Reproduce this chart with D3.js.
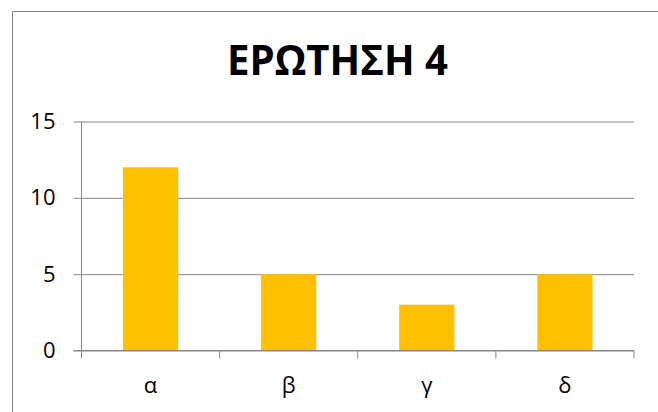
<!DOCTYPE html>
<html><head><meta charset="utf-8">
<script src="https://cdn.jsdelivr.net/npm/d3@7"></script>
<style>html,body{margin:0;padding:0;background:#fff;}svg{display:block;}</style>
</head><body>
<script>
const title = "ΕΡΩΤΗΣΗ 4";
const categories = ["α", "β", "γ", "δ"];
const values = [12, 5, 3, 5];
const yTicks = [0, 5, 10, 15];

(function () {
const W = 658, H = 412;
const svg = d3.select("body").append("svg").attr("width", W).attr("height", H);
svg.append("rect").attr("width", W).attr("height", H).attr("fill", "#fff");
// chart border
svg.append("path").attr("d", `M12.5,${H} V11.5 H${W}`).attr("fill", "none").attr("stroke", "#868686").attr("stroke-width", 1);

const pL = 81.5, pR = 634, pT = 121.5, pB = 350.5;
const x = d3.scaleBand().domain(categories).range([pL, pR]).paddingInner(0.6).paddingOuter(0.3);
const xb = d3.scaleBand().domain(categories).range([pL, pR]);
const y = d3.scaleLinear().domain([0, 15]).range([pB, pT]);

const font = "'Open Sans', 'Liberation Sans', sans-serif";
svg.append("text").attr("x", 337.5).attr("y", 75).attr("text-anchor", "middle")
  .attr("font-family", font).attr("font-weight", "bold").attr("font-size", 42)
  .attr("textLength", 221).attr("lengthAdjust", "spacingAndGlyphs")
  .attr("fill", "#000").text(title);

// gridlines
const yAxis = d3.axisLeft(y).tickValues(yTicks).tickSize(-(pR - pL)).tickSizeOuter(0).tickPadding(26);
const gy = svg.append("g").attr("transform", `translate(${pL},0)`).call(yAxis);
gy.select(".domain").remove();
gy.selectAll(".tick line").attr("stroke", "#868686").attr("x1", -8);
gy.selectAll(".tick text").attr("font-family", font).attr("font-size", 22).attr("fill", "#000");

// y axis line
svg.append("line").attr("x1", pL).attr("x2", pL).attr("y1", pT).attr("y2", pB).attr("stroke", "#868686");

svg.append("g").selectAll("rect").data(values).join("rect")
  .attr("x", (d, i) => x(categories[i])).attr("width", x.bandwidth())
  .attr("y", d => y(d)).attr("height", d => y(0) - y(d)).attr("fill", "#FFC000");

// x axis
svg.append("line").attr("x1", pL - 8).attr("x2", pR).attr("y1", pB).attr("y2", pB).attr("stroke", "#868686");
const bounds = [pL].concat(categories.map(c => xb(c) + xb.bandwidth()));
svg.append("g").selectAll("line").data(bounds).join("line")
  .attr("x1", d => d).attr("x2", d => d).attr("y1", pB).attr("y2", pB + 8).attr("stroke", "#868686");
svg.append("g").selectAll("text").data(categories).join("text")
  .attr("x", d => xb(d) + xb.bandwidth() / 2).attr("y", 393).attr("text-anchor", "middle")
  .attr("font-family", font).attr("font-size", 22).attr("fill", "#000").text(d => d);
})();
</script>
</body></html>
